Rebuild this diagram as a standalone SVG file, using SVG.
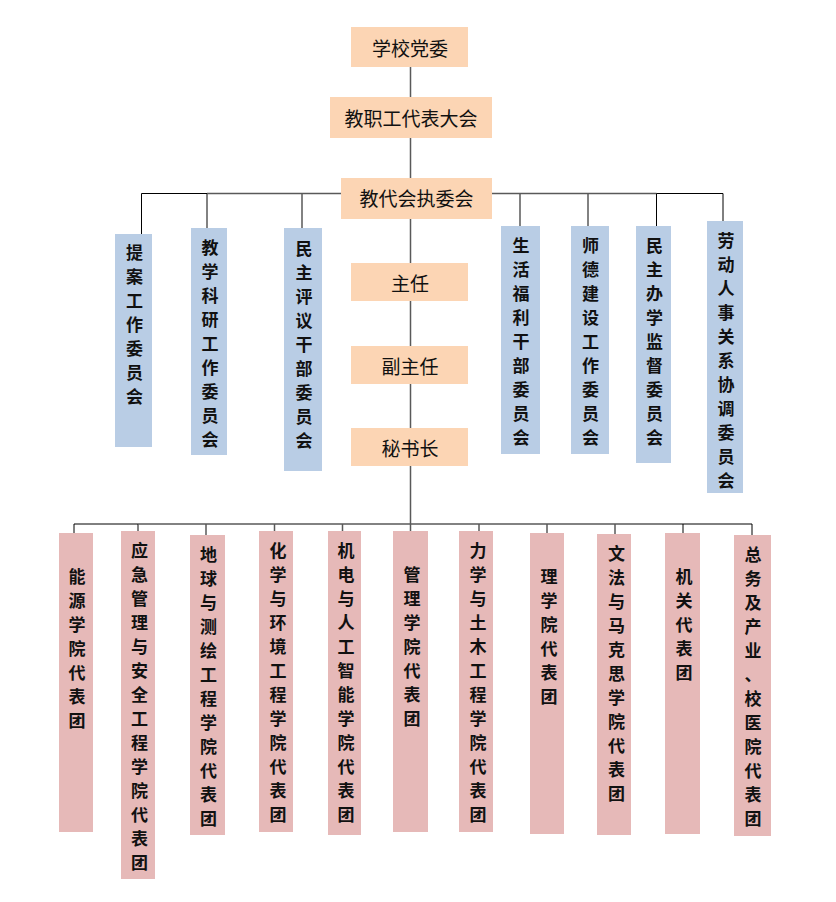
<svg xmlns="http://www.w3.org/2000/svg" width="836" height="902" viewBox="0 0 836 902">
<style>
.peach{fill:#FCD5B4}
.blue{fill:#B9CDE5}
.pink{fill:#E6B9B8}
.tt{font-family:"Noto Sans CJK SC","Noto Sans CJK TC",sans-serif;font-size:19px;fill:#111;text-anchor:middle;dominant-baseline:central}
.vt{font-family:"Noto Sans CJK SC","Noto Sans CJK TC",sans-serif;font-size:17px;font-weight:bold;fill:#111;text-anchor:middle;dominant-baseline:central}
.ln{stroke:#595959;stroke-width:1.5;fill:none}
.lb{stroke:#000;stroke-width:1;fill:none}
</style>
<rect width="836" height="902" fill="#fff"/>
<g id="connectors">
<path class="ln" d="M410.5 67V97M410.5 138V178M410.5 219V263M410.5 301V346M410.5 384V428M410.5 466V531"/>
<path class="ln" d="M207 193.5H341M492 193.5H656.5M207 193.5V228M302 193.5V228M520 193.5V226M588 193.5V226"/>
<path class="lb" d="M141.5 234V193.5H207M656.5 193.5H723V221M656.5 193.5V226"/>
<path class="ln" d="M138 524H683M138 524V531M206 524V535M274.5 524V531M342.5 524V531M479 524V531M547 524V533M615 524V534"/>
<path class="lb" d="M74 533V524H138M683 533V524H752V535"/>
</g>
<g id="n1"><rect class="peach" x="351" y="27" width="117" height="40"/><text class="tt" x="410" y="47">学校党委</text></g>
<g id="n2"><rect class="peach" x="330" y="97" width="162" height="41"/><text class="tt" x="411" y="117.5">教职工代表大会</text></g>
<g id="n3"><rect class="peach" x="341" y="178" width="151" height="41"/><text class="tt" x="416.5" y="197.5">教代会执委会</text></g>
<g id="n4"><rect class="peach" x="351" y="263" width="117" height="38"/><text class="tt" x="410" y="282">主任</text></g>
<g id="n5"><rect class="peach" x="351" y="346" width="117" height="38"/><text class="tt" x="410" y="365">副主任</text></g>
<g id="n6"><rect class="peach" x="351" y="428" width="117" height="38"/><text class="tt" x="410" y="447">秘书长</text></g>

<g id="c1"><rect class="blue" x="115" y="234" width="37" height="213"/><text class="vt"><tspan x="134.5" y="251">提</tspan><tspan x="134.5" y="275">案</tspan><tspan x="134.5" y="299">工</tspan><tspan x="134.5" y="323">作</tspan><tspan x="134.5" y="347">委</tspan><tspan x="134.5" y="371">员</tspan><tspan x="134.5" y="395">会</tspan></text></g>
<g id="c2"><rect class="blue" x="191" y="228" width="36" height="227"/><text class="vt"><tspan x="210" y="246">教</tspan><tspan x="210" y="270">学</tspan><tspan x="210" y="294">科</tspan><tspan x="210" y="318">研</tspan><tspan x="210" y="342">工</tspan><tspan x="210" y="366">作</tspan><tspan x="210" y="390">委</tspan><tspan x="210" y="414">员</tspan><tspan x="210" y="438">会</tspan></text></g>
<g id="c3"><rect class="blue" x="284" y="228" width="38" height="243"/><text class="vt"><tspan x="304" y="247">民</tspan><tspan x="304" y="271">主</tspan><tspan x="304" y="295">评</tspan><tspan x="304" y="319">议</tspan><tspan x="304" y="343">干</tspan><tspan x="304" y="367">部</tspan><tspan x="304" y="391">委</tspan><tspan x="304" y="415">员</tspan><tspan x="304" y="439">会</tspan></text></g>
<g id="c4"><rect class="blue" x="501" y="226" width="39" height="228"/><text class="vt"><tspan x="521" y="244">生</tspan><tspan x="521" y="268">活</tspan><tspan x="521" y="292">福</tspan><tspan x="521" y="316">利</tspan><tspan x="521" y="340">干</tspan><tspan x="521" y="364">部</tspan><tspan x="521" y="388">委</tspan><tspan x="521" y="412">员</tspan><tspan x="521" y="436">会</tspan></text></g>
<g id="c5"><rect class="blue" x="571" y="226" width="38" height="228"/><text class="vt"><tspan x="590.5" y="244">师</tspan><tspan x="590.5" y="268">德</tspan><tspan x="590.5" y="292">建</tspan><tspan x="590.5" y="316">设</tspan><tspan x="590.5" y="340">工</tspan><tspan x="590.5" y="364">作</tspan><tspan x="590.5" y="388">委</tspan><tspan x="590.5" y="412">员</tspan><tspan x="590.5" y="436">会</tspan></text></g>
<g id="c6"><rect class="blue" x="636" y="226" width="35" height="237"/><text class="vt"><tspan x="654.5" y="244">民</tspan><tspan x="654.5" y="268">主</tspan><tspan x="654.5" y="292">办</tspan><tspan x="654.5" y="316">学</tspan><tspan x="654.5" y="340">监</tspan><tspan x="654.5" y="364">督</tspan><tspan x="654.5" y="388">委</tspan><tspan x="654.5" y="412">员</tspan><tspan x="654.5" y="436">会</tspan></text></g>
<g id="c7"><rect class="blue" x="707" y="221" width="36" height="272"/><text class="vt"><tspan x="726" y="239">劳</tspan><tspan x="726" y="263">动</tspan><tspan x="726" y="287">人</tspan><tspan x="726" y="311">事</tspan><tspan x="726" y="335">关</tspan><tspan x="726" y="359">系</tspan><tspan x="726" y="383">协</tspan><tspan x="726" y="407">调</tspan><tspan x="726" y="431">委</tspan><tspan x="726" y="455">员</tspan><tspan x="726" y="479">会</tspan></text></g>

<g id="d1"><rect class="pink" x="59" y="533" width="34" height="299"/><text class="vt"><tspan x="77" y="575">能</tspan><tspan x="77" y="599">源</tspan><tspan x="77" y="623">学</tspan><tspan x="77" y="647">院</tspan><tspan x="77" y="671">代</tspan><tspan x="77" y="695">表</tspan><tspan x="77" y="719">团</tspan></text></g>
<g id="d2"><rect class="pink" x="121" y="531" width="34" height="348"/><text class="vt"><tspan x="139.5" y="549">应</tspan><tspan x="139.5" y="573">急</tspan><tspan x="139.5" y="597">管</tspan><tspan x="139.5" y="621">理</tspan><tspan x="139.5" y="645">与</tspan><tspan x="139.5" y="669">安</tspan><tspan x="139.5" y="693">全</tspan><tspan x="139.5" y="717">工</tspan><tspan x="139.5" y="741">程</tspan><tspan x="139.5" y="765">学</tspan><tspan x="139.5" y="789">院</tspan><tspan x="139.5" y="813">代</tspan><tspan x="139.5" y="837">表</tspan><tspan x="139.5" y="861">团</tspan></text></g>
<g id="d3"><rect class="pink" x="190" y="535" width="35" height="300"/><text class="vt"><tspan x="208.5" y="553">地</tspan><tspan x="208.5" y="577">球</tspan><tspan x="208.5" y="601">与</tspan><tspan x="208.5" y="625">测</tspan><tspan x="208.5" y="649">绘</tspan><tspan x="208.5" y="673">工</tspan><tspan x="208.5" y="697">程</tspan><tspan x="208.5" y="721">学</tspan><tspan x="208.5" y="745">院</tspan><tspan x="208.5" y="769">代</tspan><tspan x="208.5" y="793">表</tspan><tspan x="208.5" y="817">团</tspan></text></g>
<g id="d4"><rect class="pink" x="259" y="531" width="34" height="301"/><text class="vt"><tspan x="278" y="549">化</tspan><tspan x="278" y="573">学</tspan><tspan x="278" y="597">与</tspan><tspan x="278" y="621">环</tspan><tspan x="278" y="645">境</tspan><tspan x="278" y="669">工</tspan><tspan x="278" y="693">程</tspan><tspan x="278" y="717">学</tspan><tspan x="278" y="741">院</tspan><tspan x="278" y="765">代</tspan><tspan x="278" y="789">表</tspan><tspan x="278" y="813">团</tspan></text></g>
<g id="d5"><rect class="pink" x="328" y="531" width="33" height="304"/><text class="vt"><tspan x="346" y="549">机</tspan><tspan x="346" y="573">电</tspan><tspan x="346" y="597">与</tspan><tspan x="346" y="621">人</tspan><tspan x="346" y="645">工</tspan><tspan x="346" y="669">智</tspan><tspan x="346" y="693">能</tspan><tspan x="346" y="717">学</tspan><tspan x="346" y="741">院</tspan><tspan x="346" y="765">代</tspan><tspan x="346" y="789">表</tspan><tspan x="346" y="813">团</tspan></text></g>
<g id="d6"><rect class="pink" x="393" y="531" width="35" height="301"/><text class="vt"><tspan x="412" y="573">管</tspan><tspan x="412" y="597">理</tspan><tspan x="412" y="621">学</tspan><tspan x="412" y="645">院</tspan><tspan x="412" y="669">代</tspan><tspan x="412" y="693">表</tspan><tspan x="412" y="717">团</tspan></text></g>
<g id="d7"><rect class="pink" x="459" y="531" width="34" height="301"/><text class="vt"><tspan x="478" y="549">力</tspan><tspan x="478" y="573">学</tspan><tspan x="478" y="597">与</tspan><tspan x="478" y="621">土</tspan><tspan x="478" y="645">木</tspan><tspan x="478" y="669">工</tspan><tspan x="478" y="693">程</tspan><tspan x="478" y="717">学</tspan><tspan x="478" y="741">院</tspan><tspan x="478" y="765">代</tspan><tspan x="478" y="789">表</tspan><tspan x="478" y="813">团</tspan></text></g>
<g id="d8"><rect class="pink" x="530" y="533" width="34" height="301"/><text class="vt"><tspan x="549" y="575">理</tspan><tspan x="549" y="599">学</tspan><tspan x="549" y="623">院</tspan><tspan x="549" y="647">代</tspan><tspan x="549" y="671">表</tspan><tspan x="549" y="695">团</tspan></text></g>
<g id="d9"><rect class="pink" x="597" y="534" width="34" height="301"/><text class="vt"><tspan x="616.5" y="552">文</tspan><tspan x="616.5" y="576">法</tspan><tspan x="616.5" y="600">与</tspan><tspan x="616.5" y="624">马</tspan><tspan x="616.5" y="648">克</tspan><tspan x="616.5" y="672">思</tspan><tspan x="616.5" y="696">学</tspan><tspan x="616.5" y="720">院</tspan><tspan x="616.5" y="744">代</tspan><tspan x="616.5" y="768">表</tspan><tspan x="616.5" y="792">团</tspan></text></g>
<g id="d10"><rect class="pink" x="665" y="533" width="35" height="301"/><text class="vt"><tspan x="684" y="575">机</tspan><tspan x="684" y="599">关</tspan><tspan x="684" y="623">代</tspan><tspan x="684" y="647">表</tspan><tspan x="684" y="671">团</tspan></text></g>
<g id="d11"><rect class="pink" x="734" y="535" width="37" height="301"/><text class="vt"><tspan x="753" y="553">总</tspan><tspan x="753" y="577">务</tspan><tspan x="753" y="601">及</tspan><tspan x="753" y="625">产</tspan><tspan x="753" y="649">业</tspan><tspan x="753" y="673">、</tspan><tspan x="753" y="697">校</tspan><tspan x="753" y="721">医</tspan><tspan x="753" y="745">院</tspan><tspan x="753" y="769">代</tspan><tspan x="753" y="793">表</tspan><tspan x="753" y="817">团</tspan></text></g>
</svg>
